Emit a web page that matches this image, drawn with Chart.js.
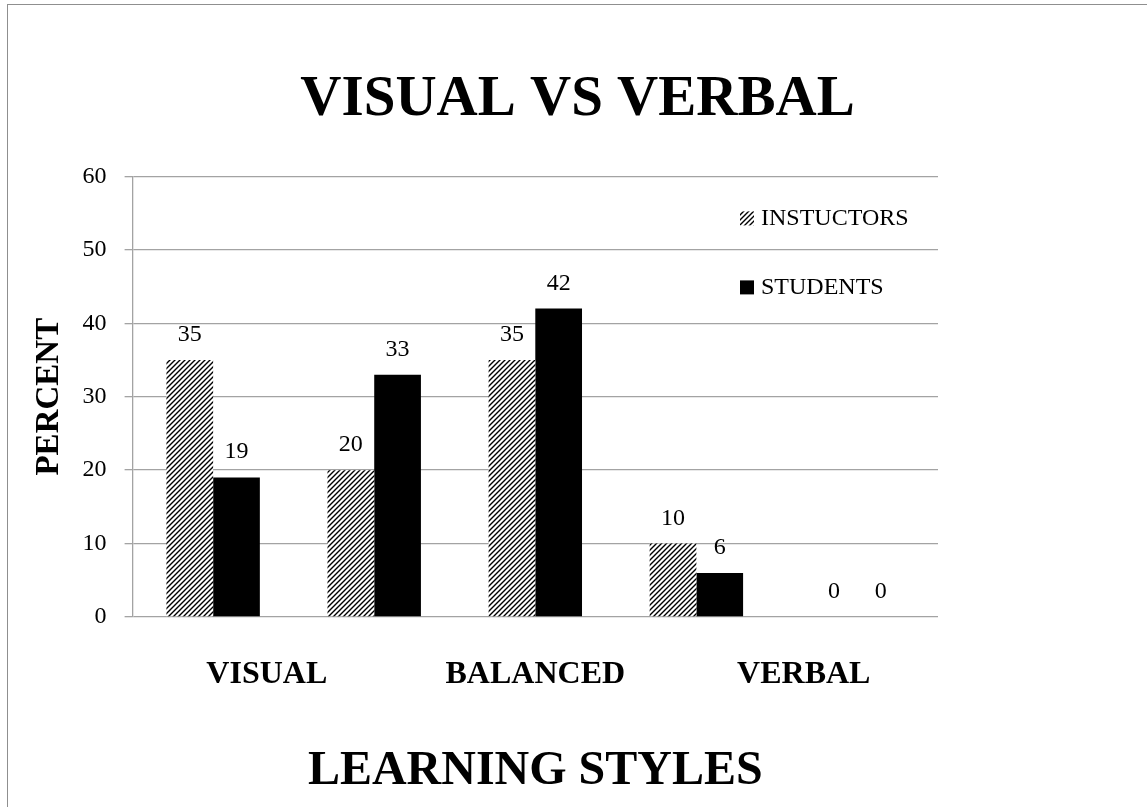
<!DOCTYPE html>
<html>
<head>
<meta charset="utf-8">
<script src="https://cdn.jsdelivr.net/npm/chart.js@4/dist/chart.umd.min.js"></script>
<style>
    body { margin: 0; background: #fff; overflow: hidden; }
    #wrap { position: relative; width: 1147px; height: 807px; }
    #frame {
        position: absolute; left: 7px; top: 4px; width: 1200px; height: 900px;
        border-left: 1px solid #8f8f8f; border-top: 1px solid #8f8f8f;
    }
    #chart { position: absolute; left: 0; top: 0; }
</style>
</head>
<body>
<div id="wrap">
    <div id="frame"></div>
    <canvas id="chart" width="1147" height="807"></canvas>
</div>
<script>
// chart data
var groups = ["1", "2", "3", "4", "5"];
var styleLabels = ["VISUAL", "BALANCED", "VERBAL"];
var instructors = [35, 20, 35, 10, 0];
var students = [19, 33, 42, 6, 0];

var FONT = "'Liberation Serif', 'Times New Roman', serif";
Chart.defaults.font.family = FONT;
Chart.defaults.color = "#000";

// "/" hatch like the Excel pattern fill
function makeHatch() {
    var n = 5;
    var c = document.createElement("canvas");
    c.width = n;
    c.height = n;
    var g = c.getContext("2d");
    g.fillStyle = "#fff";
    g.fillRect(0, 0, n, n);
    g.strokeStyle = "#000";
    g.lineWidth = 1.4;
    g.beginPath();
    g.moveTo(-1, n + 1); g.lineTo(n + 1, -1);
    g.moveTo(-1, 1); g.lineTo(1, -1);
    g.moveTo(n - 1, n + 1); g.lineTo(n + 1, n - 1);
    g.stroke();
    return g.createPattern(c, "repeat");
}
var hatch = makeHatch();

// value labels above each bar
var valueLabels = {
    id: "valueLabels",
    afterDatasetsDraw: function (chart) {
        var ctx = chart.ctx;
        ctx.save();
        ctx.font = "24px " + FONT;
        ctx.fillStyle = "#000";
        ctx.textAlign = "center";
        ctx.textBaseline = "alphabetic";
        chart.data.datasets.forEach(function (ds, i) {
            chart.getDatasetMeta(i).data.forEach(function (bar, j) {
                ctx.fillText(String(ds.data[j]), bar.x, bar.y - 19);
            });
        });
        ctx.restore();
    },
};

// legend sits inside the plot, top right
var insideLegend = {
    id: "insideLegend",
    afterDraw: function (chart) {
        var ctx = chart.ctx;
        var area = chart.chartArea;
        ctx.save();
        ctx.font = "24px " + FONT;
        ctx.textBaseline = "middle";
        ctx.textAlign = "left";
        chart.data.datasets.forEach(function (ds, i) {
            var x = area.right - 198;
            var y = area.top + 42 + i * 69;
            ctx.fillStyle = ds.backgroundColor;
            ctx.fillRect(x, y - 7, 14, 14);
            ctx.fillStyle = "#000";
            ctx.fillText(ds.label, x + 21, y);
        });
        ctx.restore();
    },
};

new Chart(document.getElementById("chart"), {
    type: "bar",
    plugins: [valueLabels, insideLegend],
    data: {
        labels: groups,
        datasets: [
            {
                label: "INSTUCTORS",
                data: instructors,
                backgroundColor: hatch,
                borderWidth: 0,
            },
            {
                label: "STUDENTS",
                data: students,
                backgroundColor: "#000",
                borderWidth: 0,
            },
        ],
    },
    options: {
        responsive: false,
        animation: false,
        categoryPercentage: 0.58,
        barPercentage: 1.0,
        layout: { padding: { top: 0, left: 8, right: 0, bottom: 7 } },
        plugins: {
            legend: { display: false },
            tooltip: { enabled: false },
            title: {
                display: true,
                text: "VISUAL VS VERBAL",
                font: { size: 57, weight: "bold" },
                color: "#000",
                padding: { top: 66, bottom: 42 },
            },
        },
        scales: {
            x: {
                display: false,
                offset: true,
            },
            x2: {
                type: "category",
                labels: styleLabels,
                position: "bottom",
                offset: true,
                grid: { display: false, drawTicks: false },
                border: { display: false },
                ticks: {
                    font: { size: 32, weight: "bold" },
                    padding: 39,
                    maxRotation: 0,
                },
                title: {
                    display: true,
                    text: "LEARNING STYLES",
                    font: { size: 48, weight: "bold" },
                    color: "#000",
                    padding: { top: 9, bottom: 0 },
                },
            },
            y: {
                min: 0,
                max: 60,
                ticks: {
                    stepSize: 10,
                    font: { size: 24 },
                    padding: 18,
                },
                grid: {
                    color: "#a3a3a3",
                    lineWidth: 1.3,
                    tickLength: 8,
                },
                border: { display: true, color: "#a3a3a3", width: 1.3 },
                title: {
                    display: true,
                    text: "PERCENT",
                    font: { size: 33, weight: "bold" },
                    color: "#000",
                    padding: { top: 22, bottom: -5 },
                },
            },
            y2: {
                position: "right",
                display: true,
                grid: { display: false },
                border: { display: false },
                ticks: { display: false },
                afterFit: function (scale) {
                    scale.width = 209;
                },
            },
        },
    },
});
</script>
</body>
</html>
